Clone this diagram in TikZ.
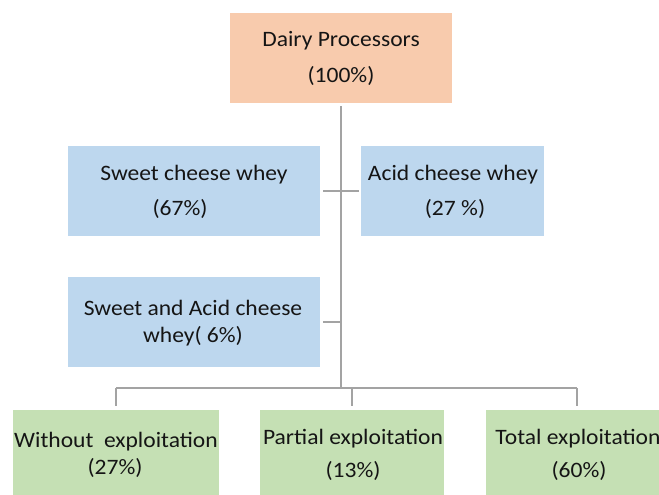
\documentclass[tikz,border=0pt]{standalone}
\usepackage{fontspec}
\setmainfont{Carlito}[FakeStretch=1.07]
\definecolor{orangebox}{HTML}{F8CBAD}
\definecolor{bluebox}{HTML}{BDD7EE}
\definecolor{greenbox}{HTML}{C5E0B4}
\definecolor{linegray}{HTML}{A3A3A3}
\definecolor{txtcol}{HTML}{151515}
\begin{document}
\begin{tikzpicture}[x=1pt,y=-1pt,
  boxnode/.style={inner sep=0pt,outer sep=0pt,anchor=north west,draw=none},
  txt/.style={anchor=base,inner sep=0pt,outer sep=0pt,text=txtcol,font=\fontsize{22}{26}\selectfont},
  conn/.style={draw=linegray,line width=2pt},
  trunk/.style={draw=linegray,line width=2.6pt}]
\useasboundingbox (0,0) rectangle (659,495);
\clip (0,0) rectangle (659,495);
% boxes
\node[boxnode,fill=orangebox,minimum width=222pt,minimum height=90pt] (top) at (230,13) {};
\node[boxnode,fill=bluebox,minimum width=252pt,minimum height=90pt] (sweet) at (68,146) {};
\node[boxnode,fill=bluebox,minimum width=183pt,minimum height=90pt] (acid) at (361,146) {};
\node[boxnode,fill=bluebox,minimum width=252pt,minimum height=90pt] (sa) at (68,277) {};
\node[boxnode,fill=greenbox,minimum width=206pt,minimum height=100pt] (wo) at (13,410) {};
\node[boxnode,fill=greenbox,minimum width=184pt,minimum height=100pt] (pa) at (260,410) {};
\node[boxnode,fill=greenbox,minimum width=182pt,minimum height=100pt] (to) at (486,410) {};
% texts
\node[txt] (topa) at (341,47) {Dairy Processors};
\node[txt] (topb) at (341,83) {(100\%)};
\node[txt] (sweeta) at (194,180) {Sweet cheese whey};
\node[txt] (sweetb) at (180,215) {(67\%)};
\node[txt] (acida) at (453,180) {Acid cheese whey};
\node[txt] (acidb) at (455,215) {(27 \%)};
\node[txt] (saa) at (193,315) {Sweet and Acid cheese};
\node[txt] (sab) at (193,342) {whey( 6\%)};
\node[txt] (woa) at (116,447) {Without\ \ exploitation};
\node[txt] (wob) at (115,474) {(27\%)};
\node[txt] (paa) at (353,444) {Partial exploitation};
\node[txt] (pab) at (353,477) {(13\%)};
\node[txt] (toa) at (578,444) {Total exploitation};
\node[txt] (tob) at (579,477) {(60\%)};
% connectors
\coordinate (bus) at (341,388);
\coordinate (busl) at (116,388);
\coordinate (busr) at (577,388);
\draw[conn,shorten <=3pt,shorten >=2pt] (sweet.east) -- (acid.west);
\draw[conn,shorten <=3pt] (sa.east) -- (sa.east -| bus);
\draw[conn] (busl) -- (busr);
\draw[conn,shorten >=4pt] (busl) -- (wo.north -| busl);
\draw[conn,shorten >=4pt] (pa.north |- bus) -- (pa.north);
\draw[conn,shorten >=4pt] (busr) -- (to.north -| busr);
\draw[trunk] ([yshift=-3pt]top.south) -- (bus);
\end{tikzpicture}
\end{document}
